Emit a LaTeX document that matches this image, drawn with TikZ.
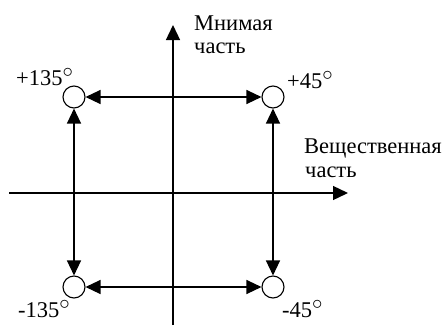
\documentclass[tikz,border=0pt]{standalone}
\usepackage{fontspec}
\setmainfont{Liberation Serif}
\usetikzlibrary{arrows.meta}
\newcommand{\dg}{$^{\textstyle\circ}$}
\begin{document}
\begin{tikzpicture}[x=1pt,y=-1pt,
  ln/.style={line width=1.3pt},
  tip/.style={-{Triangle[length=15pt,width=14pt]}},
  dtip/.style={{Triangle[length=15pt,width=14pt]}-{Triangle[length=15pt,width=14pt]}},
  pt/.style={circle,draw,line width=1.1pt,minimum size=22pt,inner sep=0pt},
  lbl/.style={font=\fontsize{22.5}{24}\selectfont,inner sep=0pt,anchor=base west,align=left}]
\useasboundingbox (0,0) rectangle (445,325);
\coordinate (vb) at (173,325);
\coordinate (vt) at (173,25);
\coordinate (hl) at (9,193);
\coordinate (hr) at (348,193);
\draw[ln,tip] (vb) -- (vt);
\draw[ln,tip] (hl) -- (hr);
\node[pt] (tl) at (74,97) {};
\node[pt] (tr) at (273,97) {};
\node[pt] (bl) at (74,287) {};
\node[pt] (br) at (273,287) {};
\draw[ln,dtip] (tl) -- (tr);
\draw[ln,dtip] (bl) -- (br);
\draw[ln,dtip] (tl) -- (bl);
\draw[ln,dtip] (tr) -- (br);
\node[lbl] (im1) at (194,30) {Мнимая};
\node[lbl] (im2) at (194,53) {часть};
\node[lbl] (re1) at (304,153) {Вещественная};
\node[lbl] (re2) at (305,177) {часть};
\node[lbl] (a1) at (16,85) {+135\dg};
\node[lbl] (a2) at (287,88) {+45\dg};
\node[lbl] (a3) at (18,317) {-135\dg};
\node[lbl] (a4) at (282,317) {-45\dg};
\end{tikzpicture}
\end{document}
